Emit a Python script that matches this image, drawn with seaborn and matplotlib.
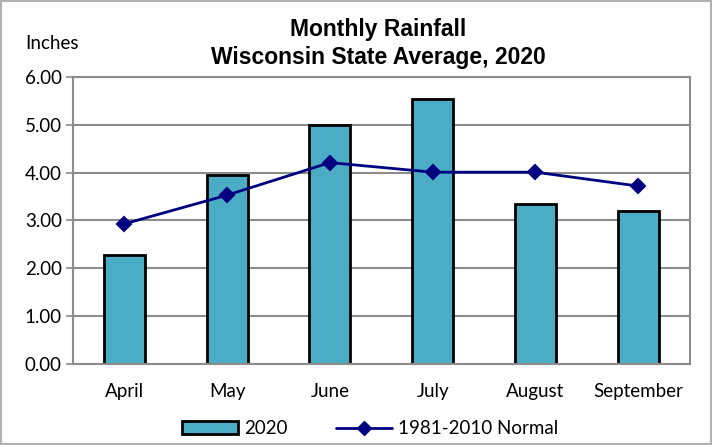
import matplotlib
matplotlib.use("Agg")
import matplotlib.pyplot as plt
import seaborn as sns
import pandas as pd
from matplotlib.patches import Patch, Rectangle
from matplotlib.lines import Line2D
from matplotlib.ticker import FixedLocator

months = ["April", "May", "June", "July", "August", "September"]
rain_2020 = [2.27, 3.96, 5.00, 5.54, 3.34, 3.20]
normal = [2.93, 3.53, 4.21, 4.01, 4.01, 3.72]
yticks = [0.0, 1.0, 2.0, 3.0, 4.0, 5.0, 6.0]

df = pd.DataFrame({"Month": months, "2020": rain_2020, "Normal": normal})

sns.set_style("white")
plt.rcParams["font.family"] = ["Lato", "DejaVu Sans"]

fig = plt.figure(figsize=(7.12, 4.45), dpi=100)
ax = fig.add_axes([0.1025, 0.182, 0.866, 0.645])

grid_c = "#8c8c8c"
for y in yticks:
    ax.axhline(y, color=grid_c, lw=1.5, zorder=0)

sns.barplot(data=df, x="Month", y="2020", color="#4BACC6", saturation=1,
            edgecolor="black", linewidth=2, width=0.4, ax=ax, zorder=2)
sns.pointplot(data=df, x="Month", y="Normal", color="#000080", markers="D",
              markersize=7, linewidth=2, ax=ax, zorder=3)

ax.set_ylim(0, 6)
ax.set_xlim(-0.5, 5.5)
ax.set_yticks(yticks)
ax.set_yticklabels([f"{v:.2f}" for v in yticks], fontsize=13.5, color="black")
ax.set_xticks(range(len(months)))
ax.set_xticklabels(months, fontsize=13.5, color="black")
ax.xaxis.set_minor_locator(FixedLocator([i - 0.5 for i in range(len(months) + 1)]))
ax.tick_params(axis="x", which="major", length=0, pad=14)
ax.tick_params(axis="x", which="minor", length=5, width=1.2, color=grid_c, direction="out")
ax.tick_params(axis="y", length=5, width=1.2, color=grid_c, direction="out", left=True, pad=3)
ax.set_xlabel("")
ax.set_ylabel("")
for s in ax.spines.values():
    s.set_color(grid_c)
    s.set_linewidth(1.5)

tfam = ["Liberation Sans", "DejaVu Sans"]
fig.text(0.531, 0.933, "Monthly Rainfall", ha="center", va="center",
         fontsize=16.5, fontweight="bold", family=tfam, color="black")
fig.text(0.531, 0.870, "Wisconsin State Average, 2020", ha="center", va="center",
         fontsize=16.5, fontweight="bold", family=tfam, color="black")
fig.text(0.035, 0.902, "Inches", ha="left", va="center", fontsize=13.5, color="black")

handles = [Patch(facecolor="#4BACC6", edgecolor="black", linewidth=2, label="2020"),
           Line2D([0], [0], color="#000080", lw=2, marker="D", markersize=7,
                  label="1981-2010 Normal")]
leg = fig.legend(handles=handles, loc="center", bbox_to_anchor=(0.52, 0.036), ncol=2,
                 frameon=False, fontsize=13.5, handlelength=3.0, columnspacing=2.6,
                 handletextpad=0.3)
for t in leg.get_texts():
    t.set_color("black")

fig.patches.append(Rectangle((0.001, 0.003), 0.997, 0.995, transform=fig.transFigure,
                             fill=False, edgecolor="#b0b0b0", lw=1.5))

fig.savefig("out.png", dpi=100)
